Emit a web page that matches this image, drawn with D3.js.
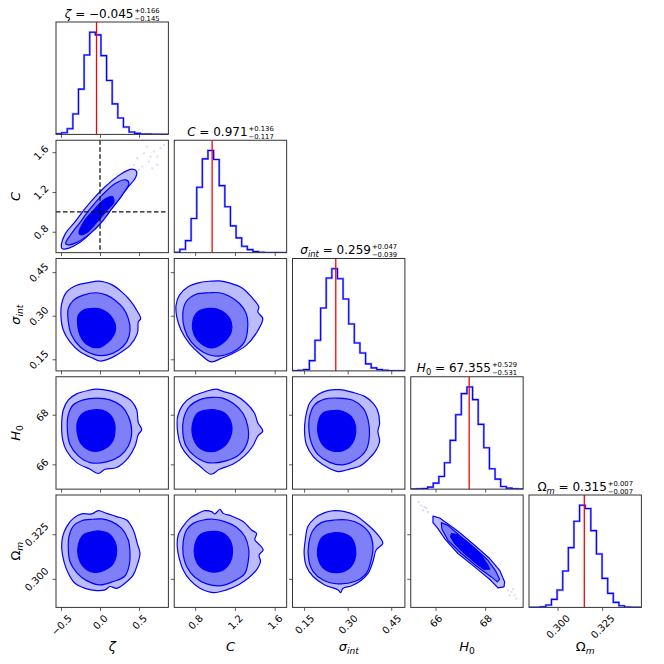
<!DOCTYPE html>
<html>
<head>
<meta charset="utf-8">
<script src="https://cdn.jsdelivr.net/npm/d3@7"></script>
<style>
  body { margin: 0; background: #fff; }
  text { font-family: "DejaVu Sans", sans-serif; fill: #000; }
</style>
</head>
<body>
<div id="chart"></div>
<script>
// --- data ---

var limits = [[-0.564, 0.876], [0.59, 1.72], [0.110, 0.497], [65.0, 69.53], [0.284, 0.347]];
var tickVals = [[-0.5, 0.0, 0.5], [0.8, 1.2, 1.6], [0.15, 0.30, 0.45], [66, 68], [0.300, 0.325]];
var tickText = [["−0.5", "0.0", "0.5"], ["0.8", "1.2", "1.6"], ["0.15", "0.30", "0.45"], ["66", "68"], ["0.300", "0.325"]];

// label pieces: [text, flags] (i = italic, s = subscript)
var labels = [
  [["ζ", "i"]],
  [["C", "i"]],
  [["σ", "i"], ["int", "is"]],
  [["H", "i"], ["0", "s"]],
  [["Ω", ""], ["m", "is"]]
];

var medians = [-0.045, 0.971, 0.259, 67.355, 0.315];
var medianText = ["−0.045", "0.971", "0.259", "67.355", "0.315"];
var errUp = ["0.166", "0.136", "0.047", "0.529", "0.007"];
var errDown = ["0.145", "0.117", "0.039", "0.531", "0.007"];
var truthZeta = 0.0, truthC = 1.0;

// 20-bin histograms (relative counts)
var histZeta = [2, 5, 17, 61, 135, 237, 305, 297, 235, 161, 91, 49, 22, 7, 3, 1, 1, 0.5, 0, 0];
var histC = [1, 10, 36, 102, 195, 280, 305, 278, 200, 137, 80, 44, 19, 9, 3, 1, 0.5, 0.3, 0, 0];
var histSigma = [0, 2, 4, 31, 92, 189, 279, 307, 277, 216, 141, 84, 54, 21, 9, 4, 2, 0, 0, 0];
var histH0 = [0, 1, 2, 6, 18, 38, 79, 146, 223, 286, 306, 268, 194, 124, 61, 30, 8, 3, 1, 0];
var histOm = [0, 0, 2, 7, 24, 52, 109, 179, 258, 306, 296, 230, 160, 87, 42, 15, 5, 1, 0, 0];

// contour levels, [outer, middle, inner], in data units
var ctrZetaC = [
  [[-0.496,0.652],[-0.440,0.786],[-0.334,0.887],[-0.205,1.020],[-0.077,1.138],[0.093,1.272],[0.264,1.379],[0.413,1.429],[0.469,1.405],[0.456,1.345],[0.349,1.238],[0.221,1.104],[0.136,1.020],[0.008,0.903],[-0.120,0.786],[-0.270,0.686],[-0.398,0.636],[-0.483,0.629]],
  [[-0.440,0.686],[-0.376,0.770],[-0.248,0.903],[-0.120,1.037],[0.029,1.171],[0.200,1.288],[0.328,1.322],[0.371,1.288],[0.285,1.171],[0.157,1.037],[0.029,0.903],[-0.120,0.786],[-0.291,0.696],[-0.419,0.669]],
  [[-0.270,0.786],[-0.205,0.903],[-0.077,1.020],[0.051,1.121],[0.157,1.154],[0.179,1.104],[0.093,1.020],[-0.035,0.903],[-0.163,0.796],[-0.248,0.770]]
];
var ctrZetaSigma = [
  [[-0.021,0.419],[-0.150,0.414],[-0.299,0.405],[-0.427,0.382],[-0.491,0.342],[-0.500,0.296],[-0.470,0.250],[-0.385,0.210],[-0.256,0.176],[-0.085,0.153],[0.000,0.144],[0.128,0.153],[0.278,0.176],[0.385,0.198],[0.479,0.239],[0.491,0.279],[0.521,0.290],[0.470,0.319],[0.385,0.353],[0.278,0.382],[0.150,0.407],[0.043,0.417]],
  [[-0.043,0.379],[-0.214,0.371],[-0.342,0.353],[-0.406,0.325],[-0.406,0.279],[-0.363,0.233],[-0.256,0.193],[-0.085,0.167],[0.085,0.164],[0.235,0.181],[0.342,0.210],[0.385,0.250],[0.363,0.290],[0.299,0.325],[0.192,0.353],[0.085,0.371]],
  [[-0.064,0.325],[-0.214,0.319],[-0.278,0.302],[-0.286,0.267],[-0.256,0.233],[-0.171,0.202],[-0.021,0.190],[0.107,0.210],[0.192,0.244],[0.192,0.273],[0.128,0.302],[0.043,0.319]]
];
var ctrCSigma = [
  [[0.961,0.419],[0.843,0.414],[0.726,0.399],[0.642,0.371],[0.608,0.336],[0.615,0.296],[0.659,0.250],[0.743,0.204],[0.843,0.170],[0.961,0.141],[1.061,0.153],[1.178,0.170],[1.313,0.198],[1.413,0.239],[1.480,0.290],[1.430,0.313],[1.440,0.330],[1.380,0.359],[1.279,0.394],[1.145,0.413],[1.044,0.420]],
  [[0.944,0.379],[0.810,0.374],[0.709,0.348],[0.676,0.308],[0.692,0.256],[0.760,0.210],[0.877,0.175],[1.011,0.161],[1.178,0.175],[1.296,0.210],[1.329,0.262],[1.313,0.308],[1.246,0.342],[1.145,0.367],[1.044,0.379]],
  [[0.944,0.325],[0.826,0.313],[0.776,0.279],[0.793,0.233],[0.860,0.204],[0.961,0.189],[1.078,0.206],[1.162,0.244],[1.162,0.279],[1.111,0.305],[1.028,0.322]]
];
var ctrZetaH0 = [
  [[-0.043,69.03],[-0.150,68.98],[-0.299,68.84],[-0.406,68.60],[-0.470,68.20],[-0.491,67.67],[-0.479,67.00],[-0.427,66.54],[-0.299,66.07],[-0.128,65.80],[-0.021,65.63],[0.064,65.80],[0.214,65.87],[0.363,66.27],[0.449,66.74],[0.491,67.20],[0.534,67.40],[0.491,67.67],[0.470,68.20],[0.406,68.54],[0.278,68.80],[0.128,68.96]],
  [[-0.043,68.67],[-0.214,68.60],[-0.342,68.40],[-0.406,68.00],[-0.419,67.40],[-0.385,66.80],[-0.278,66.34],[-0.128,66.07],[0.085,66.10],[0.256,66.34],[0.363,66.74],[0.406,67.34],[0.363,67.94],[0.278,68.34],[0.128,68.60]],
  [[-0.064,68.20],[-0.214,68.07],[-0.286,67.74],[-0.291,67.27],[-0.235,66.80],[-0.107,66.54],[0.043,66.60],[0.150,66.87],[0.192,67.34],[0.171,67.80],[0.085,68.11]]
];
var ctrCH0 = [
  [[1.011,69.03],[0.910,68.94],[0.776,68.74],[0.676,68.40],[0.625,67.94],[0.625,67.27],[0.659,66.74],[0.743,66.27],[0.843,65.94],[0.961,65.60],[1.044,65.80],[1.178,66.00],[1.296,66.34],[1.380,66.74],[1.430,67.14],[1.480,67.34],[1.430,67.67],[1.396,68.07],[1.313,68.47],[1.195,68.80],[1.078,68.94]],
  [[0.977,68.70],[0.843,68.60],[0.743,68.34],[0.686,67.87],[0.676,67.27],[0.709,66.74],[0.793,66.34],[0.927,66.07],[1.111,66.14],[1.246,66.40],[1.329,66.94],[1.329,67.54],[1.279,68.07],[1.178,68.47],[1.078,68.67]],
  [[0.944,68.20],[0.826,68.07],[0.776,67.67],[0.776,67.14],[0.843,66.67],[0.961,66.51],[1.095,66.74],[1.162,67.20],[1.162,67.67],[1.095,68.07],[1.011,68.19]]
];
var ctrSigmaH0 = [
  [[0.272,69.01],[0.232,68.98],[0.198,68.81],[0.169,68.47],[0.158,68.07],[0.152,67.60],[0.152,67.19],[0.158,66.79],[0.181,66.32],[0.215,65.98],[0.267,65.71],[0.307,65.81],[0.341,65.92],[0.370,66.19],[0.395,66.52],[0.410,66.93],[0.404,67.33],[0.410,67.66],[0.402,68.20],[0.387,68.47],[0.358,68.74],[0.318,68.90]],
  [[0.267,68.67],[0.221,68.63],[0.186,68.40],[0.169,67.93],[0.167,67.33],[0.175,66.86],[0.198,66.39],[0.238,66.08],[0.284,65.98],[0.330,66.19],[0.364,66.59],[0.375,67.19],[0.370,67.80],[0.353,68.27],[0.318,68.58]],
  [[0.255,68.17],[0.215,68.07],[0.198,67.66],[0.200,67.13],[0.221,66.70],[0.261,66.52],[0.301,66.66],[0.324,67.06],[0.327,67.53],[0.312,67.93],[0.284,68.13]]
];
var ctrZetaOm = [
  [[-0.022,0.3382],[-0.107,0.3364],[-0.235,0.3364],[-0.342,0.3339],[-0.427,0.3293],[-0.479,0.3237],[-0.491,0.3171],[-0.462,0.3097],[-0.406,0.3031],[-0.321,0.2975],[-0.193,0.2947],[-0.043,0.2934],[0.063,0.2938],[0.127,0.2957],[0.213,0.2947],[0.319,0.2975],[0.426,0.3022],[0.477,0.3078],[0.512,0.3143],[0.477,0.3199],[0.426,0.3274],[0.341,0.3330],[0.213,0.3349],[0.085,0.3367]],
  [[-0.086,0.3334],[-0.235,0.3326],[-0.342,0.3296],[-0.398,0.3237],[-0.406,0.3162],[-0.385,0.3097],[-0.299,0.3035],[-0.171,0.2990],[-0.001,0.2966],[0.170,0.2985],[0.319,0.3016],[0.375,0.3078],[0.383,0.3153],[0.362,0.3218],[0.277,0.3283],[0.149,0.3321],[0.021,0.3336]],
  [[-0.086,0.3265],[-0.214,0.3246],[-0.278,0.3190],[-0.278,0.3125],[-0.214,0.3069],[-0.086,0.3037],[0.063,0.3050],[0.170,0.3087],[0.213,0.3153],[0.191,0.3209],[0.106,0.3255],[-0.001,0.3268]]
];
var ctrCOm = [
  [[0.898,0.3382],[0.831,0.3367],[0.747,0.3339],[0.680,0.3296],[0.630,0.3246],[0.620,0.3181],[0.640,0.3115],[0.680,0.3050],[0.747,0.2994],[0.848,0.2947],[0.982,0.2923],[1.115,0.2938],[1.233,0.2966],[1.333,0.3003],[1.417,0.3050],[1.457,0.3097],[1.443,0.3134],[1.484,0.3162],[1.433,0.3199],[1.400,0.3218],[1.417,0.3255],[1.366,0.3274],[1.283,0.3321],[1.166,0.3352],[1.082,0.3367],[1.049,0.3390],[0.998,0.3364],[0.965,0.3377]],
  [[0.881,0.3330],[0.781,0.3311],[0.714,0.3274],[0.680,0.3209],[0.680,0.3134],[0.714,0.3069],[0.797,0.3009],[0.915,0.2972],[1.065,0.2962],[1.199,0.2990],[1.300,0.3031],[1.333,0.3097],[1.340,0.3162],[1.300,0.3237],[1.216,0.3289],[1.099,0.3321],[0.982,0.3334]],
  [[0.948,0.3265],[0.848,0.3246],[0.797,0.3190],[0.797,0.3125],[0.848,0.3069],[0.948,0.3041],[1.065,0.3046],[1.149,0.3091],[1.176,0.3153],[1.149,0.3218],[1.065,0.3259]]
];
var ctrSigmaOm = [
  [[0.255,0.3382],[0.221,0.3371],[0.186,0.3339],[0.163,0.3293],[0.154,0.3218],[0.150,0.3143],[0.158,0.3069],[0.181,0.3013],[0.221,0.2966],[0.267,0.2938],[0.276,0.2923],[0.284,0.2947],[0.312,0.2960],[0.341,0.2985],[0.370,0.3031],[0.387,0.3097],[0.398,0.3162],[0.421,0.3199],[0.404,0.3246],[0.370,0.3302],[0.324,0.3358],[0.290,0.3377]],
  [[0.255,0.3330],[0.209,0.3315],[0.181,0.3274],[0.166,0.3199],[0.166,0.3106],[0.181,0.3041],[0.215,0.2994],[0.267,0.2972],[0.324,0.2985],[0.364,0.3031],[0.381,0.3106],[0.387,0.3181],[0.375,0.3255],[0.341,0.3308],[0.301,0.3330]],
  [[0.255,0.3259],[0.215,0.3237],[0.198,0.3181],[0.200,0.3106],[0.221,0.3054],[0.261,0.3035],[0.301,0.3054],[0.324,0.3106],[0.327,0.3171],[0.312,0.3231],[0.284,0.3255]]
];
var ctrH0Om = [
  [[65.895,0.3352],[66.164,0.3341],[66.433,0.3315],[66.903,0.3267],[67.575,0.3188],[68.180,0.3114],[68.583,0.3048],[68.785,0.2983],[68.758,0.2955],[68.516,0.2949],[68.180,0.2998],[67.575,0.3067],[66.903,0.3142],[66.366,0.3226],[66.097,0.3282],[65.895,0.3315]],
  [[66.231,0.3315],[66.500,0.3300],[67.038,0.3235],[67.575,0.3173],[68.113,0.3104],[68.409,0.3048],[68.583,0.2998],[68.489,0.2983],[68.247,0.3011],[67.642,0.3072],[67.038,0.3142],[66.500,0.3216],[66.258,0.3278]],
  [[66.634,0.3253],[66.903,0.3248],[67.374,0.3197],[67.844,0.3132],[68.113,0.3076],[68.180,0.3054],[67.952,0.3054],[67.642,0.3086],[67.172,0.3142],[66.769,0.3198],[66.608,0.3235]]
];

// faint samples outside the contours
var dotsZetaC = [[0.477,1.539],[0.563,1.589],[0.627,1.506],[0.691,1.606],[0.733,1.556],[0.776,1.640],[0.541,1.456],[0.669,1.439],[0.499,1.422],[0.605,1.656],[0.819,1.673],[0.435,1.472],[0.733,1.472],[0.371,1.389],[0.648,1.556]];
var dotsH0Om = [[65.317,0.3431],[65.425,0.3412],[65.559,0.3403],[65.492,0.3384],[65.694,0.3375],[65.626,0.3397],[68.919,0.2936],[69.054,0.2927],[69.188,0.2908],[69.255,0.2890],[68.987,0.2908],[69.121,0.2942]];

// --- assembly ---
var hists = [histZeta, histC, histSigma, histH0, histOm];
var contourSets = {
  "0-1": ctrZetaC, "0-2": ctrZetaSigma, "1-2": ctrCSigma,
  "0-3": ctrZetaH0, "1-3": ctrCH0, "2-3": ctrSigmaH0,
  "0-4": ctrZetaOm, "1-4": ctrCOm, "2-4": ctrSigmaOm, "3-4": ctrH0Om
};
var dotSets = { "0-1": dotsZetaC, "3-4": dotsH0Om };

var L = 56, T = 22, S = 112.4, STEP = 118.25;
var fills = ["#bcbcfd", "#7f7ff8", "#0000f5"];
var blue = "#0000ff";

var svg = d3.select("#chart").append("svg")
  .attr("width", 664)
  .attr("height", 664);

svg.append("defs").append("clipPath")
  .attr("id", "panelClip")
  .append("rect")
  .attr("width", S)
  .attr("height", S);

var xScales = limits.map(function(lim) {
  return d3.scaleLinear().domain(lim).range([0, S]);
});
var yScales = limits.map(function(lim) {
  return d3.scaleLinear().domain(lim).range([S, 0]);
});

// rotated tick labels, matplotlib style
function styleBottom(ax) {
  ax.select(".domain").remove();
  ax.selectAll(".tick line").attr("stroke", "#333").attr("stroke-width", 0.8);
  ax.selectAll(".tick text").each(function() {
    var t = d3.select(this);
    if (!t.text()) return;
    var w = this.getComputedTextLength();
    var r = (w + 6) * 0.7071 / 2;
    t.attr("x", 0).attr("y", 0).attr("dy", null)
      .attr("dominant-baseline", "central")
      .attr("text-anchor", "middle")
      .attr("transform", "translate(0," + (7 + r) + ") rotate(-45)");
  });
}
function styleLeft(ax) {
  ax.select(".domain").remove();
  ax.selectAll(".tick line").attr("stroke", "#333").attr("stroke-width", 0.8);
  ax.selectAll(".tick text").each(function() {
    var t = d3.select(this);
    if (!t.text()) return;
    var w = this.getComputedTextLength();
    var r = (w + 6) * 0.7071 / 2;
    t.attr("x", 0).attr("y", 0).attr("dy", null)
      .attr("dominant-baseline", "central")
      .attr("text-anchor", "middle")
      .attr("transform", "translate(" + (-7 - r) + ",0) rotate(-45)");
  });
}

function addBottomAxis(g, k, withLabels) {
  var ax = g.append("g")
    .attr("transform", "translate(0," + S + ")")
    .attr("font-size", 7)
    .call(d3.axisBottom(xScales[k])
      .tickValues(tickVals[k])
      .tickSize(3.5)
      .tickSizeOuter(0)
      .tickFormat(function(d, i) { return withLabels ? tickText[k][i] : ""; }));
  ax.attr("font-family", null);
  styleBottom(ax);
}
function addLeftAxis(g, k, withLabels) {
  var ax = g.append("g")
    .attr("font-size", 7)
    .call(d3.axisLeft(yScales[k])
      .tickValues(tickVals[k])
      .tickSize(3.5)
      .tickSizeOuter(0)
      .tickFormat(function(d, i) { return withLabels ? tickText[k][i] : ""; }));
  ax.attr("font-family", null);
  styleLeft(ax);
}

function frame(g) {
  g.append("rect")
    .attr("width", S)
    .attr("height", S)
    .attr("fill", "none")
    .attr("stroke", "#333")
    .attr("stroke-width", 1);
}

// writes label pieces into a text element
function writeParts(text, parts, size) {
  var down = 0;
  parts.forEach(function(p) {
    var ts = text.append("tspan").text(p[0]);
    if (p[1].indexOf("i") >= 0) ts.attr("font-style", "italic");
    if (p[1].indexOf("s") >= 0) {
      ts.attr("font-size", size * 0.7).attr("dy", size * 0.25);
      down += size * 0.25;
    }
  });
  return down;
}

// --- diagonal histograms ---
hists.forEach(function(h, k) {
  var g = svg.append("g")
    .attr("transform", "translate(" + (L + k * STEP) + "," + (T + k * STEP) + ")");
  var x = xScales[k];
  var y = d3.scaleLinear().domain([0, 1.1 * d3.max(h)]).range([S, 0]);
  var lo = limits[k][0], hi = limits[k][1];
  var edges = d3.range(h.length + 1).map(function(e) { return lo + e * (hi - lo) / h.length; });

  var pts = [[edges[0], 0]];
  h.forEach(function(v, b) {
    pts.push([edges[b], v]);
    pts.push([edges[b + 1], v]);
  });
  pts.push([edges[h.length], 0]);

  var line = d3.line()
    .x(function(d) { return x(d[0]); })
    .y(function(d) { return y(d[1]); });

  var cg = g.append("g").attr("clip-path", "url(#panelClip)");
  cg.append("path")
    .attr("d", line(pts))
    .attr("fill", "none")
    .attr("stroke", "#9a9aff")
    .attr("stroke-width", 2.2);
  cg.append("path")
    .attr("d", line(pts))
    .attr("fill", "none")
    .attr("stroke", blue)
    .attr("stroke-width", 1.1);

  cg.append("line")
    .attr("x1", x(medians[k]))
    .attr("x2", x(medians[k]))
    .attr("y1", 0)
    .attr("y2", S)
    .attr("stroke", "red")
    .attr("stroke-width", 1.3);

  addBottomAxis(g, k, k === 4);
  frame(g);

  // title with errors
  var tg = svg.append("g");
  var tt = tg.append("text").attr("font-size", 12);
  var dn = writeParts(tt, labels[k], 12);
  tt.append("tspan").attr("dy", -dn).text(" = " + medianText[k]);
  var w = tt.node().getComputedTextLength();
  var up = tg.append("text").attr("x", w + 1).attr("y", -4.8).attr("font-size", 6.8).text("+" + errUp[k]);
  var lw = tg.append("text").attr("x", w + 1).attr("y", 3).attr("font-size", 6.8).text("−" + errDown[k]);
  var w2 = Math.max(up.node().getComputedTextLength(), lw.node().getComputedTextLength());
  var cx = L + k * STEP + S / 2;
  tg.attr("transform", "translate(" + (cx - (w + 1 + w2) / 2) + "," + (T + k * STEP - 4.5) + ")");
});

// --- lower-triangle contour panels ---
for (var j = 1; j < 5; j++) {
  for (var i = 0; i < j; i++) {
    var g = svg.append("g")
      .attr("transform", "translate(" + (L + i * STEP) + "," + (T + j * STEP) + ")");
    var x = xScales[i], y = yScales[j];
    var curve = i === 3 ? d3.curveLinearClosed : d3.curveCatmullRomClosed.alpha(0.5);
    var line = d3.line()
      .x(function(d) { return x(d[0]); })
      .y(function(d) { return y(d[1]); })
      .curve(curve);
    var cg = g.append("g").attr("clip-path", "url(#panelClip)");

    var dots = dotSets[i + "-" + j] || [];
    cg.selectAll("rect.dot")
      .data(dots)
      .enter()
      .append("rect")
      .attr("class", "dot")
      .attr("x", function(d) { return x(d[0]) - 1; })
      .attr("y", function(d) { return y(d[1]) - 1; })
      .attr("width", 2)
      .attr("height", 2)
      .attr("fill", "#c4c4ff")
      .attr("opacity", 0.6);

    contourSets[i + "-" + j].forEach(function(poly, lv) {
      cg.append("path")
        .attr("d", line(poly))
        .attr("fill", fills[lv])
        .attr("stroke", blue)
        .attr("stroke-width", 1.2)
        .attr("stroke-linejoin", "round");
    });

    if (i === 0 && j === 1) {
      cg.append("line")
        .attr("x1", x(truthZeta)).attr("x2", x(truthZeta))
        .attr("y1", 0).attr("y2", S)
        .attr("stroke", "#111").attr("stroke-width", 1.3)
        .attr("stroke-dasharray", "4.5,2.5");
      cg.append("line")
        .attr("x1", 0).attr("x2", S)
        .attr("y1", y(truthC)).attr("y2", y(truthC))
        .attr("stroke", "#111").attr("stroke-width", 1.3)
        .attr("stroke-dasharray", "4.5,2.5");
    }

    addLeftAxis(g, j, i === 0);
    addBottomAxis(g, i, j === 4);
    frame(g);
  }
}

// --- axis labels ---
labels.forEach(function(parts, k) {
  var xl = svg.append("text")
    .attr("x", L + k * STEP + S / 2)
    .attr("y", 651)
    .attr("text-anchor", "middle")
    .attr("font-size", 13);
  writeParts(xl, parts, 13);
  if (k > 0) {
    var cy = T + k * STEP + S / 2;
    var yl = svg.append("text")
      .attr("transform", "translate(20," + cy + ") rotate(-90)")
      .attr("text-anchor", "middle")
      .attr("font-size", 13);
    writeParts(yl, parts, 13);
  }
});
</script>
</body>
</html>
